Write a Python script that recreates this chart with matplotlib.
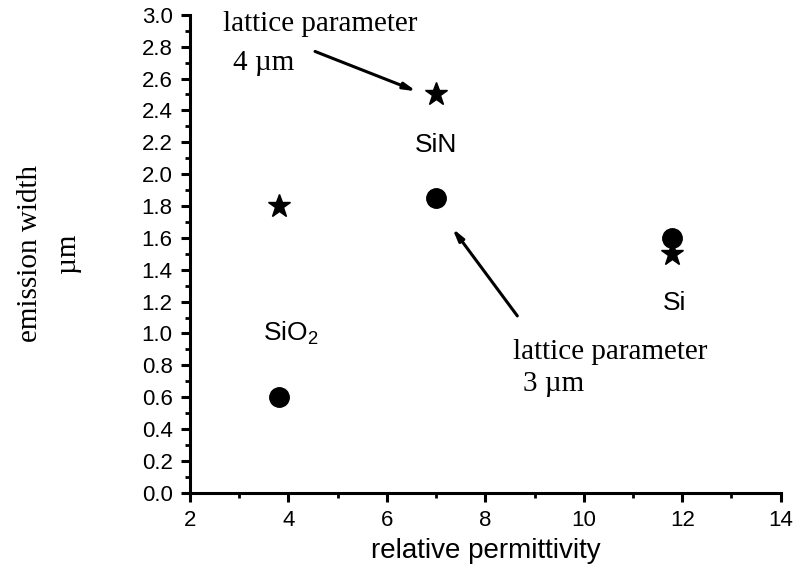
import matplotlib
matplotlib.use('Agg')
import matplotlib.pyplot as plt
from matplotlib.ticker import MultipleLocator

plt.rcParams['font.family'] = ['Liberation Sans', 'DejaVu Sans']
plt.rcParams['mathtext.fontset'] = 'custom'
plt.rcParams['mathtext.rm'] = 'Liberation Sans'
plt.rcParams['mathtext.it'] = 'Liberation Sans'

# data
materials = ['SiO$_2$', 'SiN', 'Si']
permittivity = [3.8, 7.0, 11.8]
width_4um = [1.8, 2.5, 1.5]     # stars, lattice parameter 4 um
width_3um = [0.6, 1.85, 1.6]    # circles, lattice parameter 3 um

fig = plt.figure(figsize=(7.95, 5.69), dpi=100)
ax = fig.add_axes([0.239, 0.134, 0.743, 0.84])

ax.plot(permittivity, width_4um, linestyle='none', marker='*', ms=17, color='black', zorder=3)
ax.plot(permittivity, width_3um, linestyle='none', marker='o', ms=14, color='black', zorder=3)

# material names
ax.text(3.48, 1.0, materials[0], fontsize=19, ha='left', va='center')
ax.text(7.0, 2.18, materials[1], fontsize=19, ha='center', va='center')
ax.text(11.85, 1.19, materials[2], fontsize=19, ha='center', va='center')

serif = ['Liberation Serif', 'DejaVu Serif']
ax.text(2.67, 2.94, 'lattice parameter', fontsize=21, family=serif, va='center')
ax.text(2.88, 2.70, '4 µm', fontsize=21, family=serif, va='center')
ax.text(8.57, 0.885, 'lattice parameter', fontsize=21, family=serif, va='center')
ax.text(8.77, 0.68, '3 µm', fontsize=21, family=serif, va='center')

arrow = dict(arrowstyle='-|>,head_length=0.7,head_width=0.18', lw=2.2, color='black',
             shrinkA=0, shrinkB=0)
ax.annotate('', xy=(6.6, 2.52), xytext=(4.54, 2.77), arrowprops=arrow)
ax.annotate('', xy=(7.33, 1.66), xytext=(8.65, 1.11), arrowprops=arrow)

ax.set_xlim(2, 14)
ax.set_ylim(0, 3.0)
ax.xaxis.set_major_locator(MultipleLocator(2))
ax.xaxis.set_minor_locator(MultipleLocator(1))
ax.yaxis.set_major_locator(MultipleLocator(0.2))
ax.yaxis.set_minor_locator(MultipleLocator(0.1))
ax.yaxis.set_major_formatter(plt.FormatStrFormatter('%.1f'))

for s in ['top', 'right']:
    ax.spines[s].set_visible(False)
for s in ['left', 'bottom']:
    ax.spines[s].set_linewidth(2.2)

ax.tick_params(which='major', direction='out', length=6.5, width=2.2, labelsize=16, pad=6)
ax.tick_params(which='minor', direction='out', length=3.5, width=2.0)

ax.set_xlabel('relative permittivity', fontsize=20, labelpad=5)
ax.set_ylabel('emission width\nµm', fontsize=21, family=serif, linespacing=1.6, labelpad=44)

fig.savefig('out.png', dpi=100)
